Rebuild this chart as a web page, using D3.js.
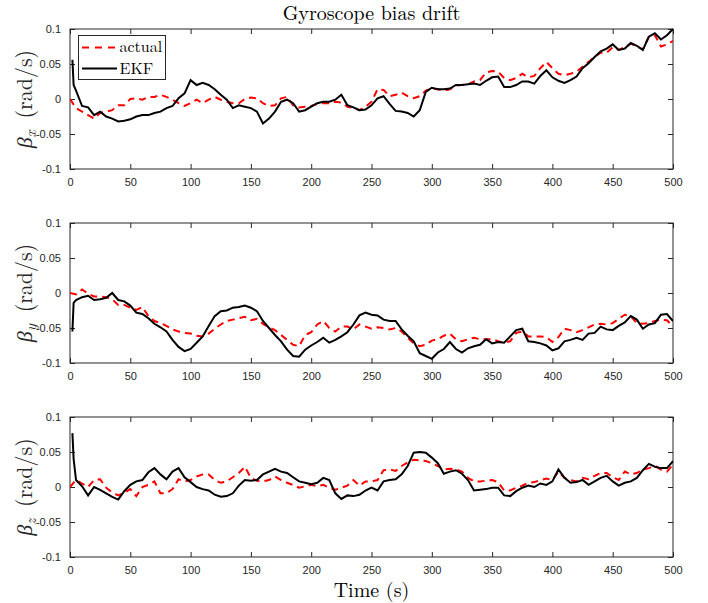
<!DOCTYPE html>
<html><head><meta charset="utf-8">
<script src="https://d3js.org/d3.v7.min.js"></script>
<style>body{margin:0;background:#fff}svg{display:block}</style>
</head><body><svg id="c" width="708" height="603"></svg>
<script>
const timeActual = [0,5,10,15,20,25,30,35,40,45,50,55,60,65,70,75,80,85,90,95,100,105,110,115,120,125,130,135,140,145,150,155,160,165,170,175,180,185,190,195,200,205,210,215,220,225,230,235,240,245,250,255,260,265,270,275,280,285,290,295,300,305,310,315,320,325,330,335,340,345,350,355,360,365,370,375,380,385,390,395,400,405,410,415,420,425,430,435,440,445,450,455,460,465,470,475,480,485,490,495,500];
const timeEKF = [2,3,5,10,15,20,25,30,35,40,45,50,55,60,65,70,75,80,85,90,95,100,105,110,115,120,125,130,135,140,145,150,155,160,165,170,175,180,185,190,195,200,205,210,215,220,225,230,235,240,245,250,255,260,265,270,275,280,285,290,295,300,305,310,315,320,325,330,335,340,345,350,355,360,365,370,375,380,385,390,395,400,405,410,415,420,425,430,435,440,445,450,455,460,465,470,475,480,485,490,495,500];

const actualX = [0,-0.013,-0.018,-0.023,-0.028,-0.020,-0.018,-0.016,-0.009,-0.009,0.000,0.001,-0.001,0.003,0.003,0.006,0.003,-0.001,-0.006,-0.010,-0.006,-0.001,-0.006,-0.001,0.003,-0.001,-0.004,-0.006,-0.006,0.000,0.002,0.001,-0.006,-0.010,-0.009,0.001,0.003,-0.009,-0.012,-0.011,-0.010,-0.007,-0.006,-0.006,-0.004,-0.005,-0.011,-0.013,-0.016,
 -0.011,-0.004,0.014,0.013,0.004,0.006,0.009,0.004,0.001,0.004,0.012,0.015,0.014,0.012,0.014,0.019,0.020,0.021,0.025,0.027,0.038,0.040,0.039,0.030,0.027,0.030,0.036,0.031,0.033,0.044,0.053,0.044,0.036,0.034,0.036,0.039,0.046,0.053,0.060,0.066,0.066,0.074,0.070,0.074,0.079,0.075,0.071,0.089,0.091,0.075,0.078,0.083];
const ekfX = [0.056,0.020,0.012,-0.010,-0.012,-0.023,-0.018,-0.025,-0.028,-0.032,-0.031,-0.029,-0.025,-0.023,-0.023,-0.020,-0.018,-0.013,-0.010,0.001,0.008,0.027,0.020,0.023,0.020,0.014,0.006,-0.001,-0.013,-0.009,-0.011,-0.013,-0.018,-0.035,-0.028,-0.018,-0.004,-0.001,-0.006,-0.018,-0.016,-0.011,-0.006,-0.004,-0.004,-0.001,0.006,-0.009,-0.012,-0.016,
 -0.015,-0.009,0.001,0.004,-0.007,-0.017,-0.018,-0.020,-0.025,-0.016,0.010,0.016,0.014,0.014,0.015,0.020,0.020,0.021,0.022,0.020,0.026,0.031,0.032,0.017,0.017,0.020,0.025,0.025,0.022,0.033,0.041,0.031,0.026,0.023,0.027,0.032,0.044,0.051,0.060,0.068,0.072,0.078,0.070,0.072,0.080,0.076,0.070,0.089,0.094,0.085,0.091,0.100];

const actualY = [0,-0.002,0.005,-0.001,-0.005,-0.005,-0.006,-0.009,-0.017,-0.017,-0.021,-0.024,-0.020,-0.033,-0.040,-0.043,-0.047,-0.052,-0.055,-0.057,-0.058,-0.061,-0.062,-0.058,-0.051,-0.045,-0.040,-0.038,-0.036,-0.034,-0.039,-0.037,-0.044,-0.049,-0.053,-0.060,-0.067,-0.074,-0.076,-0.060,-0.056,-0.045,-0.040,-0.050,-0.055,-0.048,-0.048,-0.052,-0.045,
 -0.048,-0.051,-0.049,-0.050,-0.052,-0.050,-0.055,-0.064,-0.072,-0.076,-0.074,-0.068,-0.066,-0.061,-0.058,-0.066,-0.069,-0.066,-0.064,-0.066,-0.066,-0.066,-0.069,-0.071,-0.069,-0.057,-0.055,-0.062,-0.062,-0.062,-0.063,-0.070,-0.063,-0.051,-0.053,-0.056,-0.053,-0.049,-0.045,-0.044,-0.045,-0.043,-0.037,-0.031,-0.033,-0.043,-0.044,-0.043,-0.040,-0.038,-0.039,-0.048];
const ekfY = [-0.055,-0.014,-0.010,-0.006,-0.004,-0.010,-0.009,-0.007,0.000,-0.010,-0.012,-0.018,-0.028,-0.030,-0.036,-0.044,-0.049,-0.055,-0.067,-0.077,-0.083,-0.080,-0.071,-0.062,-0.047,-0.033,-0.026,-0.025,-0.021,-0.020,-0.018,-0.021,-0.026,-0.040,-0.050,-0.060,-0.069,-0.081,-0.090,-0.091,-0.081,-0.075,-0.070,-0.064,-0.071,-0.067,-0.062,-0.056,-0.045,-0.032,
 -0.028,-0.031,-0.032,-0.038,-0.040,-0.040,-0.052,-0.061,-0.069,-0.086,-0.090,-0.094,-0.085,-0.080,-0.070,-0.080,-0.085,-0.079,-0.076,-0.074,-0.066,-0.072,-0.070,-0.071,-0.062,-0.053,-0.051,-0.069,-0.070,-0.072,-0.075,-0.082,-0.079,-0.069,-0.067,-0.064,-0.067,-0.058,-0.057,-0.048,-0.052,-0.053,-0.047,-0.042,-0.033,-0.038,-0.051,-0.045,-0.043,-0.031,-0.030,-0.040];

const actualZ = [0,0.010,0.005,0.000,0.010,0.011,-0.001,-0.008,-0.012,-0.008,-0.003,-0.013,0.000,0.003,0.008,-0.009,-0.009,-0.003,0.011,0.008,0.010,0.015,0.018,0.018,0.010,0.006,0.008,0.014,0.020,0.029,0.013,0.009,0.008,0.010,0.015,0.010,0.006,0.003,-0.001,0.001,0.003,0.001,0.003,-0.001,-0.004,-0.001,0.002,0.010,0.002,
 0.008,0.008,0.010,0.024,0.025,0.023,0.030,0.035,0.039,0.038,0.037,0.034,0.030,0.025,0.026,0.025,0.022,0.013,0.008,0.008,0.009,0.010,0.007,-0.005,-0.005,-0.001,0.002,0.006,0.007,0.010,0.012,0.010,0.022,0.013,0.010,0.008,0.013,0.011,0.016,0.020,0.020,0.014,0.010,0.022,0.018,0.020,0.025,0.027,0.030,0.025,0.022,0.032];
const ekfZ = [0.077,0.040,0.010,0.001,-0.012,0.000,-0.004,-0.009,-0.014,-0.018,-0.006,0.003,0.008,0.010,0.021,0.027,0.018,0.011,0.022,0.027,0.014,0.007,0.000,-0.003,-0.005,-0.011,-0.014,-0.013,-0.009,0.002,0.010,0.009,0.010,0.018,0.022,0.026,0.022,0.020,0.014,0.008,0.006,0.004,0.006,0.013,0.010,-0.009,-0.017,-0.012,-0.013,-0.011,
 -0.005,-0.001,-0.005,0.008,0.010,0.011,0.018,0.030,0.049,0.050,0.049,0.042,0.034,0.019,0.022,0.024,0.019,0.010,-0.005,-0.004,-0.003,-0.001,-0.001,-0.012,-0.013,-0.006,-0.001,0.002,0.000,0.005,0.003,0.008,0.025,0.013,0.006,0.007,0.010,0.003,0.008,0.013,0.016,0.008,0.002,0.006,0.008,0.013,0.024,0.033,0.029,0.027,0.027,0.037];

const xTicks = [0,50,100,150,200,250,300,350,400,450,500];
const yTicks = [-0.1,-0.05,0,0.05,0.1];
const yTickLabels = ["-0.1","-0.05","0","0.05","0.1"];
const subscripts = ["x","y","z"];
const legendLabels = ["actual","EKF"];
const titleText = "Gyroscope bias drift";
const xLabelText = "Time (s)";

const panels = [
  {sub: subscripts[0], actual: actualX, ekf: ekfX},
  {sub: subscripts[1], actual: actualY, ekf: ekfY},
  {sub: subscripts[2], actual: actualZ, ekf: ekfZ}
];

const svg = d3.select("#c");
const L = 70, R = 673, H = 140;
const tops = [29, 223, 417];
const axisColor = "#262626";
const serif = "'Latin Modern Roman','Liberation Serif','Times New Roman',serif";
const sans = "'Liberation Sans',Helvetica,Arial,sans-serif";

const x = d3.scaleLinear().domain([0, 500]).range([L, R]);

svg.append("text").attr("x", (L+R)/2).attr("y", 20).attr("text-anchor","middle")
  .attr("font-family", serif).attr("font-size", 20).attr("fill","#000").text(titleText);

panels.forEach((p, i) => {
  const top = tops[i];
  const y = d3.scaleLinear().domain([-0.1, 0.1]).range([top + H, top]);
  const g = svg.append("g");
  const clipId = "clip" + i;
  svg.append("clipPath").attr("id", clipId).append("rect")
    .attr("x", L).attr("y", top - 1).attr("width", R - L).attr("height", H + 2);

  const axB = d3.axisBottom(x).tickValues(xTicks).tickSize(-5).tickPadding(9).tickFormat(d3.format("d"));
  const axT = d3.axisTop(x).tickValues(xTicks).tickSize(-5).tickFormat("");
  const axL = d3.axisLeft(y).tickValues(yTicks).tickSize(-5).tickPadding(9).tickFormat((d,k)=>yTickLabels[k]);
  const axR = d3.axisRight(y).tickValues(yTicks).tickSize(-5).tickFormat("");
  const style = sel => {
    sel.selectAll("path,line").attr("stroke", axisColor).attr("stroke-width", 1);
    sel.selectAll("text").attr("fill", axisColor).attr("font-family", sans).attr("font-size", 11);
  };
  g.append("g").attr("transform", `translate(0,${top+H})`).call(axB).call(style);
  g.append("g").attr("transform", `translate(0,${top})`).call(axT).call(style);
  g.append("g").attr("transform", `translate(${L},0)`).call(axL).call(style);
  g.append("g").attr("transform", `translate(${R},0)`).call(axR).call(style);
  g.selectAll(".domain").attr("d", null);
  g.append("rect").attr("x", L).attr("y", top).attr("width", R-L).attr("height", H)
    .attr("fill","none").attr("stroke", axisColor).attr("stroke-width", 1);

  const lineA = d3.line().x((d,k)=>x(timeActual[k])).y(d=>y(d));
  const lineE = d3.line().x((d,k)=>x(timeEKF[k])).y(d=>y(d));
  const lg = svg.append("g").attr("clip-path", `url(#${clipId})`);
  lg.append("path").datum(p.actual).attr("d", lineA).attr("fill","none")
    .attr("stroke","#ff0000").attr("stroke-width",2).attr("stroke-dasharray","7,5");
  lg.append("path").datum(p.ekf).attr("d", lineE).attr("fill","none")
    .attr("stroke","#000").attr("stroke-width",2).attr("stroke-linejoin","miter");

  const yl = svg.append("text").attr("transform", `translate(32,${top+H/2}) rotate(-90)`)
    .attr("text-anchor","middle").attr("font-family", serif).attr("font-size", 22).attr("fill", axisColor);
  yl.append("tspan").attr("font-style","italic").text("β");
  yl.append("tspan").attr("font-style","italic").attr("font-size",15).attr("dy",4).text(p.sub);
  yl.append("tspan").attr("dy",-4).text("\u2009 (rad/s)");
});

svg.append("text").attr("x", (L+R)/2).attr("y", 597).attr("text-anchor","middle")
  .attr("font-family", serif).attr("font-size", 20).attr("fill","#000").text(xLabelText);

const leg = svg.append("g");
leg.append("rect").attr("x",78.5).attr("y",35.5).attr("width",87).attr("height",44)
  .attr("fill","#fff").attr("stroke", axisColor).attr("stroke-width",1);
leg.append("line").attr("x1",82).attr("x2",117).attr("y1",47.5).attr("y2",47.5)
  .attr("stroke","#ff0000").attr("stroke-width",2).attr("stroke-dasharray","7,6");
leg.append("line").attr("x1",82).attr("x2",117).attr("y1",68.5).attr("y2",68.5)
  .attr("stroke","#000").attr("stroke-width",2);
leg.append("text").attr("x",119.5).attr("y",52).attr("font-family",serif).attr("font-size",16).text(legendLabels[0]);
leg.append("text").attr("x",119.5).attr("y",74).attr("font-family",serif).attr("font-size",16).text(legendLabels[1]);
</script></body></html>
